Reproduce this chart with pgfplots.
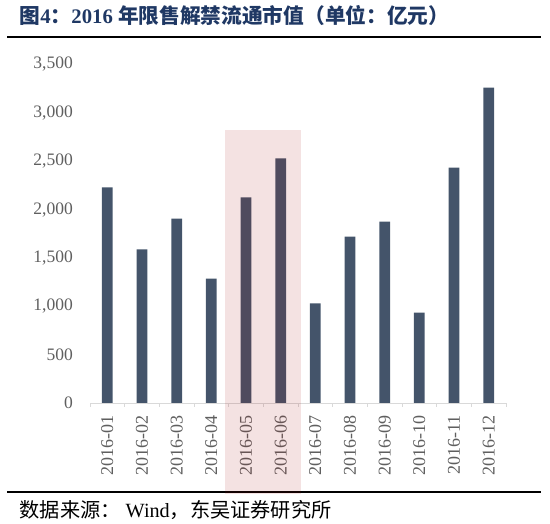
\documentclass[border=0pt]{standalone}
\usepackage{fontspec}
\setmainfont{Liberation Serif}
\newfontfamily\cjk{Noto Sans CJK SC}
\usepackage{pgfplots}
\pgfplotsset{compat=1.18}
\definecolor{barcol}{HTML}{44546A}
\definecolor{titlecol}{HTML}{1F3864}
\definecolor{tickcol}{HTML}{5F5F5F}
\definecolor{bandcol}{RGB}{163,13,13}
\definecolor{axcol}{HTML}{D9D9D9}
\begin{document}
\begin{tikzpicture}
\path[use as bounding box] (0,0) rectangle (550pt,524pt);
\node[anchor=base west, inner sep=0pt, text=titlecol] at (19.5pt,500.7pt) {\fontsize{20.7}{24}\selectfont{\cjk\bfseries 图}\textbf{4}{\cjk\bfseries ：}\textbf{2016 }{\cjk\bfseries 年限售解禁流通市值（单位：亿元）}};
\draw[line width=2pt] (7pt,487.3pt) -- (541pt,487.3pt);
\draw[line width=2pt] (7pt,31.7pt) -- (541pt,31.7pt);
\node[anchor=base west, inner sep=0pt] at (19.5pt,6.7pt) {\fontsize{20.2}{24}\selectfont{\cjk 数据来源：} Wind{\cjk ，东吴证券研究所}};
\begin{axis}[at={(90pt,121pt)}, anchor=south west, width=416pt, height=338.5pt, scale only axis,
  xmin=-0.5, xmax=11.5, ymin=0, ymax=3500, clip=false,
  axis x line*=bottom, axis y line*=left,
  y axis line style={draw=none},
  x axis line style={draw=axcol, line width=0.8pt},
  xtick={0,...,11},
  xticklabels={2016-01,2016-02,2016-03,2016-04,2016-05,2016-06,2016-07,2016-08,2016-09,2016-10,2016-11,2016-12},
  minor xtick={-0.5,0.5,1.5,2.5,3.5,4.5,5.5,6.5,7.5,8.5,9.5,10.5,11.5},
  major tick length=0pt, minor tick length=4pt, tick align=outside,
  minor tick style={draw=axcol, line width=0.8pt},
  ytick={0,500,...,3500}, ytick style={draw=none},
  xticklabel style={rotate=90, anchor=east, inner sep=0pt, font=\fontsize{18}{20}\selectfont, text=tickcol},
  xticklabel shift=12pt,
  yticklabel style={anchor=east, inner sep=0pt, font=\fontsize{17.5}{20}\selectfont, text=tickcol},
  yticklabel shift=17pt,
  /pgf/number format/.cd, 1000 sep={,}, assume math mode=true
]
\addplot[ybar, bar width=10.7pt, bar shift=0pt, fill=barcol, draw=none] coordinates {(0,2230) (1,1589) (2,1906) (3,1286) (4,2127) (5,2530) (6,1031) (7,1720) (8,1875) (9,934) (10,2433) (11,3260)};
\fill[bandcol, fill opacity=0.12] (axis cs:3.39,-941) rectangle (axis cs:5.59,2823);
\end{axis}
\end{tikzpicture}
\end{document}
